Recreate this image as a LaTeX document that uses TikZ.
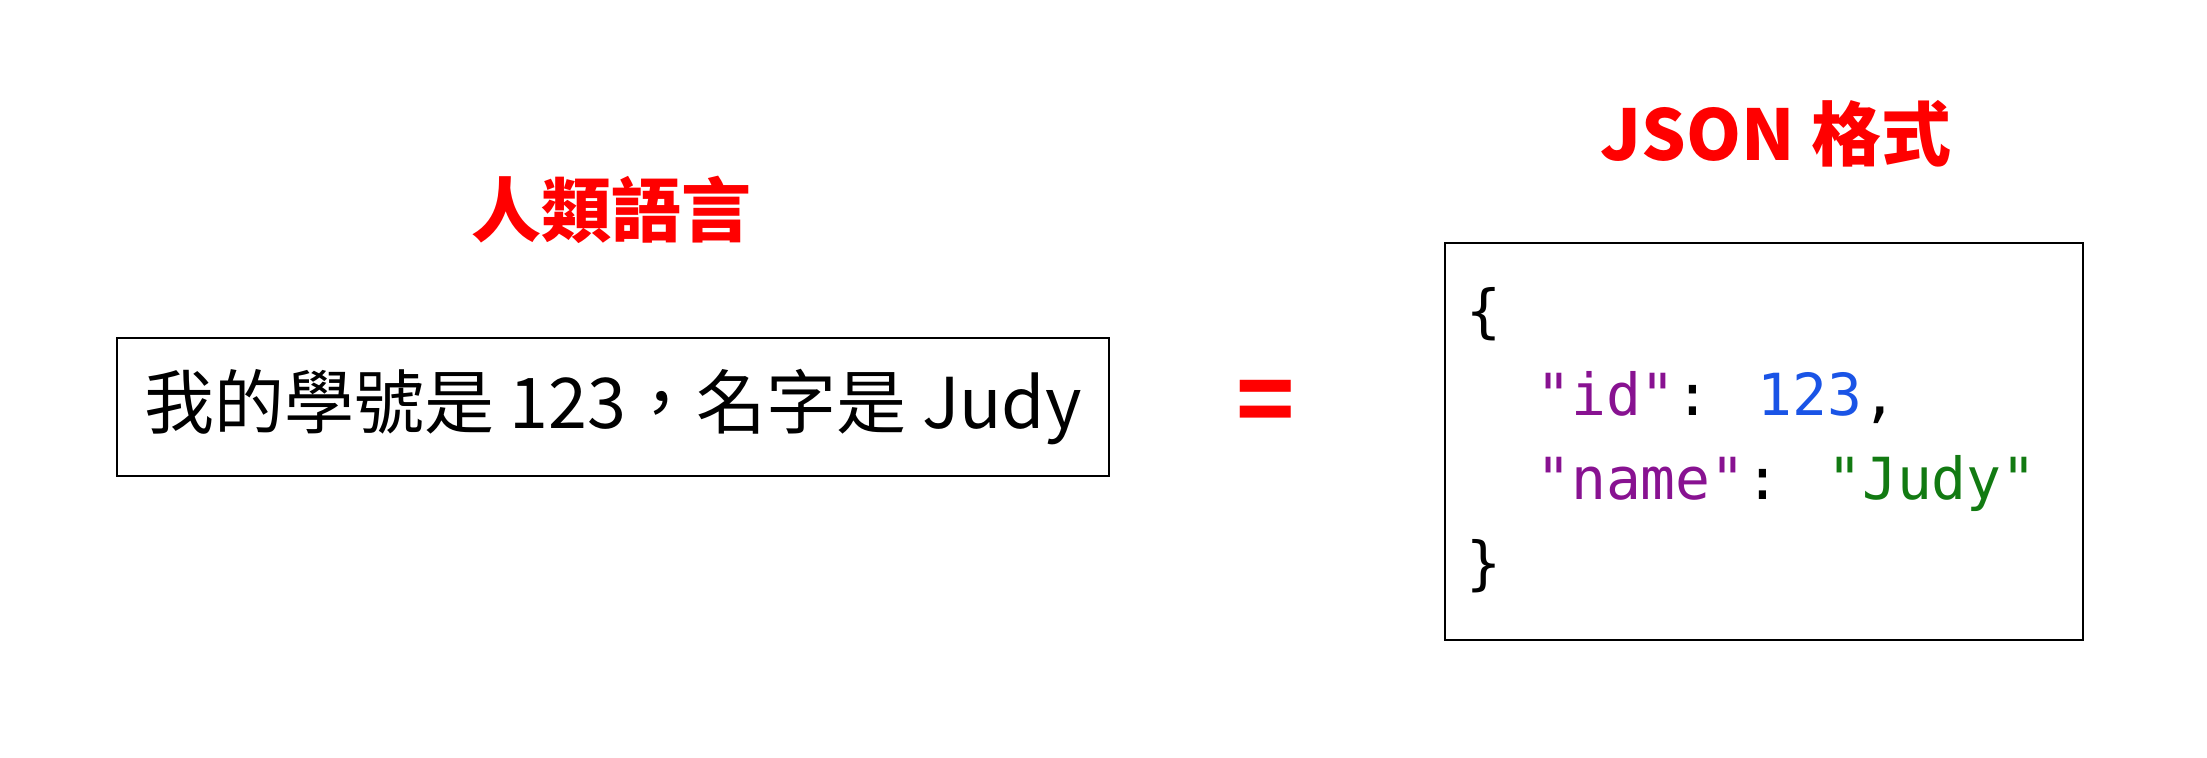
\documentclass[tikz,border=0pt]{standalone}
\usepackage{fontspec}
\usepackage{tikz}
\usetikzlibrary{positioning}
\newfontfamily\cjk{Noto Sans CJK TC}
\newfontfamily\codefont{DejaVu Sans Mono}
\definecolor{titlered}{RGB}{255,0,0}
\definecolor{jsonkey}{RGB}{136,18,145}
\definecolor{jsonnum}{RGB}{26,84,230}
\definecolor{jsonstr}{RGB}{18,122,18}

\tikzset{
  heading/.style={font=\cjk\bfseries\fontsize{35}{40}\selectfont, text=titlered, inner sep=0pt},
  framebox/.style={draw, line width=1.2pt, inner sep=0pt},
  codeline/.style={font=\codefont\fontsize{29}{34}\selectfont, anchor=base west, inner sep=0pt}
}

\begin{document}
\begin{tikzpicture}[x=0.5pt,y=0.5pt]
      \useasboundingbox (0,0) rectangle (2207,758);
      % left side: plain sentence
      \node[heading] (human) at (611,548) {人類語言};
      \node[framebox, minimum width=496pt, minimum height=69pt] (sentence) at (613,351) {};
      \node[font=\cjk\fontsize{35}{40}\selectfont, inner sep=0pt] (sentencetext) at (sentence.center) {我的學號是 123，名字是 Judy};
      % equals sign
      \node[font=\cjk\bfseries\fontsize{48}{50}\selectfont, text=titlered, inner sep=0pt] (equal) at (1266,350) {=};
      % right side: json
      \node[heading] (json) at (1776,624) {JSON 格式};
      \node[framebox, minimum width=319pt, minimum height=198.5pt] (jsonbox) at (1764,316.5) {};
      \node[codeline] (open) at (1466,426) {\{};
      \node[codeline] (idline) at (1466,342) {\ \ \textcolor{jsonkey}{"id"}: \textcolor{jsonnum}{123},};
      \node[codeline] (nameline) at (1466,258) {\ \ \textcolor{jsonkey}{"name"}: \textcolor{jsonstr}{"Judy"}};
      \node[codeline] (close) at (1466,174) {\}};
    \end{tikzpicture}
\end{document}
